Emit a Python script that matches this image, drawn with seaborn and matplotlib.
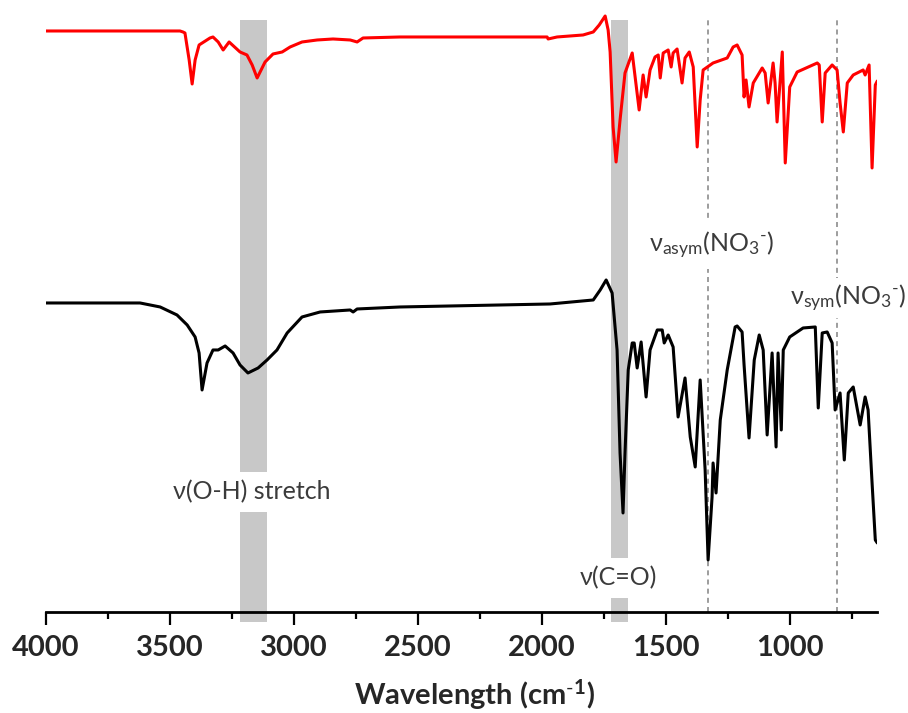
import numpy as np
import pandas as pd
import seaborn as sns
import matplotlib.pyplot as plt

# IR spectra (transmittance, arbitrary offset units)
red_wavenumber = [4000, 3742, 3581, 3460, 3448, 3440, 3423, 3411, 3399, 3383, 3339, 3327,
                  3306, 3286, 3262, 3218, 3190, 3169, 3149, 3133, 3117, 3085, 3048, 3016,
                  2968, 2907, 2843, 2774, 2746, 2722, 2573, 2371, 2089, 1980, 1976, 1940,
                  1835, 1794, 1770, 1746, 1734, 1726, 1714, 1702, 1686, 1666, 1637, 1609,
                  1593, 1581, 1565, 1545, 1532, 1524, 1512, 1492, 1480, 1472, 1456, 1436,
                  1424, 1407, 1391, 1375, 1363, 1351, 1311, 1254, 1230, 1214, 1194, 1186,
                  1178, 1166, 1149, 1113, 1101, 1089, 1069, 1061, 1053, 1032, 1020, 1002,
                  972, 891, 883, 871, 859, 831, 811, 799, 786, 770, 746, 706, 698, 682,
                  670, 657, 649]
red_transmittance = [581, 581, 581, 581, 580, 579, 552, 528, 552, 567, 574, 575,
                     570, 562, 570, 560, 557, 547, 534, 542, 550, 558, 560, 565,
                     570, 572, 573, 572, 570, 574, 575, 575, 575, 575, 573, 575,
                     577, 580, 587, 596, 582, 560, 485, 450, 492, 539, 559, 502,
                     537, 515, 542, 555, 557, 534, 559, 562, 545, 559, 563, 529,
                     554, 560, 545, 465, 512, 542, 549, 554, 565, 567, 557, 515,
                     532, 505, 529, 544, 539, 509, 549, 529, 490, 560, 449, 525,
                     540, 549, 547, 490, 539, 547, 542, 509, 480, 529, 537, 542, 537, 547,
                     444, 527, 531]

black_wavenumber = [4000, 3742, 3621, 3540, 3472, 3431, 3399, 3383, 3371, 3351, 3327, 3306,
                    3278, 3246, 3218, 3186, 3145, 3109, 3069, 3028, 2968, 2895, 2774, 2762,
                    2746, 2573, 2371, 1968, 1794, 1766, 1742, 1718, 1698, 1686, 1674, 1666,
                    1653, 1637, 1629, 1617, 1601, 1581, 1565, 1536, 1516, 1508, 1492, 1472,
                    1452, 1424, 1403, 1383, 1363, 1343, 1331, 1315, 1311, 1299, 1282, 1254,
                    1222, 1214, 1194, 1186, 1166, 1145, 1125, 1109, 1093, 1073, 1057, 1049,
                    1036, 1028, 1002, 948, 899, 887, 871, 851, 831, 819, 799, 782, 766,
                    746, 718, 698, 686, 670, 657, 649]
black_transmittance = [309, 309, 309, 305, 297, 287, 275, 259, 222, 249, 262, 262,
                       266, 259, 247, 239, 244, 252, 262, 279, 295, 300, 302, 300,
                       303, 305, 306, 308, 312, 322, 332, 319, 262, 159, 99, 159,
                       242, 269, 269, 244, 270, 215, 262, 282, 282, 269, 277, 265,
                       195, 234, 175, 145, 232, 142, 52, 115, 149, 119, 192, 242,
                       285, 286, 280, 247, 174, 252, 277, 262, 177, 259, 165, 259,
                       182, 262, 275, 284, 285, 204, 279, 280, 269, 202, 219, 152, 219,
                       225, 187, 215, 202, 129, 72, 69]

band_ranges = [(3218, 3109), (1722, 1653)]
band_labels = ["ν(O-H) stretch", "ν(C=O)"]
nitrate_positions = [1331, 811]
nitrate_labels = [r"ν$_{\rm asym}$(NO$_3{}^{\text{-}}$)", r"ν$_{\rm sym}$(NO$_3{}^{\text{-}}$)"]
major_ticks = [4000, 3500, 3000, 2500, 2000, 1500, 1000]
minor_ticks = [3750, 3250, 2750, 2250, 1750, 1250, 750]

sns.set_theme(style="white")
plt.rcParams["font.family"] = ["Lato", "DejaVu Sans"]
plt.rcParams["mathtext.fontset"] = "custom"
plt.rcParams["mathtext.rm"] = "Lato"
plt.rcParams["mathtext.it"] = "Lato:italic"
plt.rcParams["mathtext.bf"] = "Lato:bold"
plt.rcParams["xtick.direction"] = "out"

red_df = pd.DataFrame({"wavenumber": red_wavenumber, "transmittance": red_transmittance})
black_df = pd.DataFrame({"wavenumber": black_wavenumber, "transmittance": black_transmittance})

fig = plt.figure(figsize=(9.08, 7.13), dpi=100)
ax = fig.add_axes([0.0507, 0.1417, 0.9152, 0.8443])

# shaded bands and dashed nitrate markers
for lo, hi in band_ranges:
    ax.fill_between([lo, hi], -10, 592, color="#c8c8c8", lw=0, zorder=1, clip_on=False)
for pos in nitrate_positions:
    ax.plot([pos, pos], [0, 592], ls=(0, (3, 2.5)), color="#8c8c8c", lw=1.2, zorder=1)

sns.lineplot(data=red_df, x="wavenumber", y="transmittance", color="#ff0000", lw=2.2,
             estimator=None, sort=False, ax=ax, zorder=3)
sns.lineplot(data=black_df, x="wavenumber", y="transmittance", color="black", lw=2.2,
             estimator=None, sort=False, ax=ax, zorder=3)

box = dict(facecolor="white", edgecolor="none", pad=6)
txt_color = "#3b3b3b"
ax.text(3169, 120, band_labels[0], ha="center", va="center", fontsize=18, color=txt_color,
        bbox=box, zorder=4)
ax.text(1694, 34, band_labels[1], ha="center", va="center", fontsize=18, color=txt_color,
        bbox=box, zorder=4)
ax.text(1315, 367, nitrate_labels[0], ha="center", va="center", fontsize=18, color=txt_color,
        bbox=box, zorder=4)
ax.text(766, 314, nitrate_labels[1], ha="center", va="center", fontsize=18, color=txt_color,
        bbox=dict(facecolor="white", edgecolor="none", pad=3), zorder=4, clip_on=False)

ax.set_xlim(4000, 650)
ax.set_ylim(0, 602)
ax.set_yticks([])
ax.set_xticks(major_ticks)
ax.set_xticks(minor_ticks, minor=True)
ax.set_xticklabels([str(t) for t in major_ticks], fontsize=21, fontweight="bold")
ax.tick_params(axis="x", which="major", direction="out", length=9.5, width=1.6, pad=7,
               bottom=True, color="black")
ax.tick_params(axis="x", which="minor", direction="out", length=5, width=1.6,
               bottom=True, color="black")
ax.set_ylabel("")
ax.set_xlabel(r"Wavelength (cm$^{\text{-}\mathbf{1}}$)", fontsize=21, fontweight="bold")
ax.xaxis.set_label_coords(0.515, -0.108)
sns.despine(ax=ax, left=True)
ax.spines["bottom"].set_linewidth(2)
ax.spines["bottom"].set_color("black")

fig.savefig("out.png", dpi=100)
